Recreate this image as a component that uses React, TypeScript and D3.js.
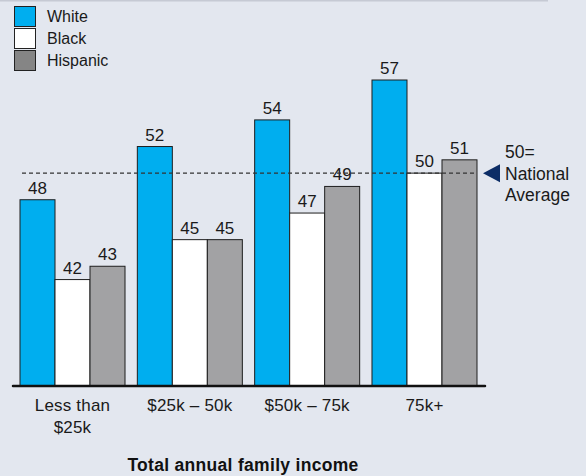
import { useEffect, useRef } from 'react';
import * as d3 from 'd3';

const categories = ['Less than $25k', '$25k – 50k', '$50k – 75k', '75k+'];
const categoryLines = [['Less than', '$25k'], ['$25k – 50k'], ['$50k – 75k'], ['75k+']];
const series = ['White', 'Black', 'Hispanic'];
const white = [48, 52, 54, 57];
const black = [42, 45, 47, 50];
const hispanic = [43, 45, 49, 51];
const nationalAverage = 50;
const axisTitle = 'Total annual family income';
const noteLines = ['50=', 'National', 'Average'];

const barColors = ['#00aeef', '#ffffff', '#a2a2a4'];
const legendColors = ['#00aeef', '#ffffff', '#858585'];

export default function App() {
  const svgRef = useRef<SVGSVGElement>(null);

  useEffect(() => {
    if (!svgRef.current) return;
    document.body.style.margin = '0';

    const W = 586;
    const H = 476;
    const svg = d3.select(svgRef.current);
    svg.selectAll('*').remove();
    svg.attr('width', W).attr('height', H);

    const font = '"Liberation Sans", Arial, Helvetica, sans-serif';

    // background
    svg.append('rect').attr('width', W).attr('height', H).attr('fill', '#e3e7ef');
    svg.append('line')
      .attr('x1', 0).attr('x2', 548).attr('y1', 0.5).attr('y2', 0.5)
      .attr('stroke', '#c6cad4').attr('stroke-width', 2);

    const values = [white, black, hispanic];
    const baseY = 386;

    const x0 = d3.scaleBand<string>()
      .domain(categories)
      .range([20, 477])
      .paddingInner(0.105)
      .paddingOuter(0);

    const x1 = d3.scaleBand<string>()
      .domain(series)
      .range([0, x0.bandwidth()])
      .padding(0);

    const y = d3.scaleLinear().domain([34, 57]).range([baseY, 80]);

    // bars
    categories.forEach((cat, ci) => {
      const g = svg.append('g').attr('transform', `translate(${x0(cat)},0)`);
      series.forEach((s, si) => {
        const v = values[si][ci];
        g.append('rect')
          .attr('x', x1(s)!)
          .attr('y', y(v))
          .attr('width', x1.bandwidth())
          .attr('height', baseY - y(v))
          .attr('fill', barColors[si])
          .attr('stroke', '#1e1e1e')
          .attr('stroke-width', 1);
        g.append('text')
          .attr('x', x1(s)! + x1.bandwidth() / 2)
          .attr('y', y(v) - 6)
          .attr('text-anchor', 'middle')
          .attr('font-family', font)
          .attr('font-size', 17)
          .attr('fill', '#1a1a1a')
          .text(String(v));
      });
    });

    // national average dashed line
    svg.append('line')
      .attr('x1', 22).attr('x2', 477)
      .attr('y1', y(nationalAverage)).attr('y2', y(nationalAverage))
      .attr('stroke', '#333')
      .attr('stroke-width', 1.2)
      .attr('stroke-dasharray', '4,3');

    // baseline
    svg.append('line')
      .attr('x1', 13).attr('x2', 485)
      .attr('y1', baseY).attr('y2', baseY)
      .attr('stroke', '#111')
      .attr('stroke-width', 2.5)
      .attr('stroke-linecap', 'round');

    // category labels
    categories.forEach((cat, ci) => {
      const cx = x0(cat)! + x0.bandwidth() / 2;
      categoryLines[ci].forEach((line, li) => {
        svg.append('text')
          .attr('x', cx)
          .attr('y', 411 + li * 21.5)
          .attr('text-anchor', 'middle')
          .attr('font-family', font)
          .attr('font-size', 17)
          .attr('letter-spacing', 0.2)
          .attr('fill', '#1a1a1a')
          .text(line);
      });
    });

    // axis title
    svg.append('text')
      .attr('x', 243)
      .attr('y', 471)
      .attr('text-anchor', 'middle')
      .attr('font-family', font)
      .attr('font-size', 17.5)
      .attr('letter-spacing', 0.3)
      .attr('font-weight', 'bold')
      .attr('fill', '#111')
      .text(axisTitle);

    // legend
    const legend = svg.append('g').attr('transform', 'translate(14,6)');
    series.forEach((s, i) => {
      legend.append('rect')
        .attr('x', 0.5).attr('y', i * 22 + 0.5)
        .attr('width', 21).attr('height', 20)
        .attr('fill', legendColors[i])
        .attr('stroke', '#222')
        .attr('stroke-width', 1);
      legend.append('text')
        .attr('x', 33).attr('y', i * 22 + 15.5)
        .attr('font-family', font)
        .attr('font-size', 16)
        .attr('fill', '#1a1a1a')
        .text(s);
    });

    // note arrow
    const ay = y(nationalAverage);
    svg.append('path')
      .attr('d', `M483,${ay} L500,${ay - 9} L500,${ay + 9} Z`)
      .attr('fill', '#0c2d66');
    noteLines.forEach((t, i) => {
      svg.append('text')
        .attr('x', 505)
        .attr('y', 158 + i * 21.5)
        .attr('font-family', font)
        .attr('font-size', 17.5)
        .attr('fill', '#1a1a1a')
        .text(t);
    });
  }, []);

  return <svg ref={svgRef} style={{ display: 'block' }} />;
}
